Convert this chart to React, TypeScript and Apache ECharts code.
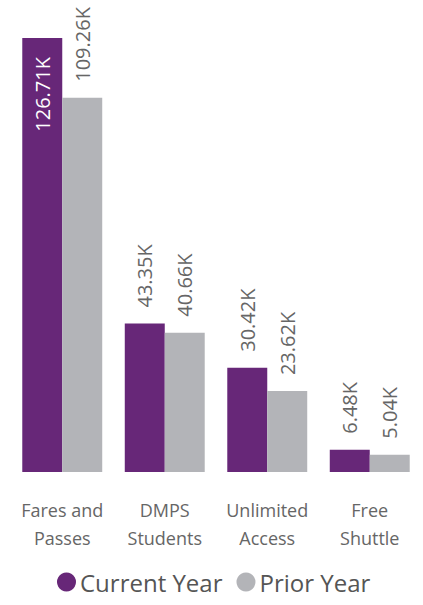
import React, { useEffect, useRef } from "react";
import * as echarts from "echarts";

const categories = ["Fares and\nPasses", "DMPS\nStudents", "Unlimited\nAccess", "Free\nShuttle"];
const currentYear = [126.71, 43.35, 30.42, 6.48];
const priorYear = [109.26, 40.66, 23.62, 5.04];

const FONT = "'Open Sans', 'Noto Sans', sans-serif";

export default function App() {
  const ref = useRef<HTMLDivElement>(null);
  useEffect(() => {
    document.body.style.margin = "0";
    const chart = echarts.init(ref.current!, null, { renderer: "svg" });
    const outsideLabel = {
      show: true,
      position: "top",
      rotate: 90,
      align: "left",
      verticalAlign: "middle",
      distance: 16,
      color: "#666666",
      fontSize: 20,
      fontFamily: FONT,
      formatter: (p: any) => p.value.toFixed(2) + "K",
    };
    chart.setOption({
      animation: false,
      grid: { left: 11, right: 2, top: 38, bottom: 133, containLabel: false },
      legend: {
        bottom: 6,
        left: 52,
        icon: "circle",
        itemWidth: 19,
        itemHeight: 19,
        itemGap: 14,
        textStyle: { fontSize: 24, color: "#555555", fontFamily: FONT, padding: [0, 0, 0, -1] },
        data: ["Current Year", "Prior Year"],
      },
      xAxis: {
        type: "category",
        data: categories,
        axisLine: { show: false },
        axisTick: { show: false },
        axisLabel: {
          margin: 24,
          fontSize: 18,
          lineHeight: 28,
          color: "#666666",
          fontFamily: FONT,
          interval: 0,
        },
      },
      yAxis: {
        type: "value",
        min: 0,
        max: 126.71,
        show: false,
        splitLine: { show: false },
      },
      series: [
        {
          name: "Current Year",
          type: "bar",
          data: currentYear.map((v, i) =>
            i === 0
              ? {
                  value: v,
                  label: {
                    position: "insideTop",
                    align: "right",
                    color: "#ffffff",
                    distance: 16,
                    offset: [-3, 0],
                  },
                }
              : v
          ),
          barGap: "0%",
          barCategoryGap: "22%",
          itemStyle: { color: "#672778" },
          label: outsideLabel,
        },
        {
          name: "Prior Year",
          type: "bar",
          data: priorYear,
          barGap: "0%",
          barCategoryGap: "22%",
          itemStyle: { color: "#B3B4B8" },
          label: outsideLabel,
        },
      ],
    });
    return () => chart.dispose();
  }, []);
  return <div ref={ref} style={{ width: 423, height: 605 }} />;
}
